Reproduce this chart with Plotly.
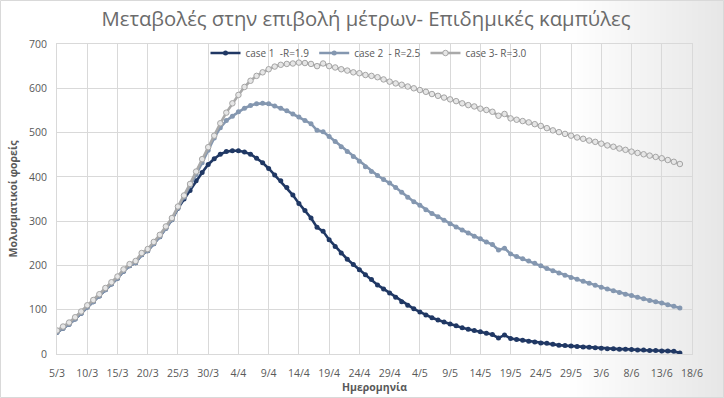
import pandas as pd
import plotly.graph_objects as go

# ---------------- data ----------------
start_date = "2020-03-05"
dates = pd.date_range(start_date, periods=104, freq="D")

case1 = [49, 58, 67, 79, 92, 106, 118, 131, 145, 158, 171, 187, 199, 206, 224, 233, 249, 265, 284, 303, 329,
         350, 369, 391, 410, 428, 441, 451, 457, 459, 459,
         456, 451, 442, 432, 419, 404, 391, 376, 359, 340,
         324, 307, 286, 277, 258, 243, 228, 214, 202, 190,
         179, 168, 156, 147, 138, 128, 118, 110, 102, 95,
         88, 82, 77, 72, 68, 64, 59, 56, 53, 50,
         47, 44, 36, 43, 35, 33, 31, 29, 27, 25,
         24, 22, 20, 19, 18, 17, 16, 15, 14, 13,
         12, 12, 11, 11, 10, 9, 9, 8, 8, 7,
         7, 6, 2]

case2 = [49, 58, 67, 79, 92, 106, 118, 131, 145, 158, 171, 187, 199, 206, 224, 233, 249, 265, 284, 303, 330,
         354, 380, 405, 432, 460, 488, 511, 527, 537, 547,
         555, 561, 565, 566, 565, 560, 555, 549, 542, 535,
         527, 520, 505, 502, 491, 480, 468, 457, 446, 435,
         423, 412, 403, 394, 386, 376, 365, 354, 344, 336,
         326, 317, 310, 302, 294, 287, 280, 273, 266, 260,
         253, 247, 235, 239, 226, 220, 215, 210, 205, 199,
         193, 188, 183, 178, 173, 169, 164, 160, 155, 151,
         147, 143, 139, 135, 132, 128, 125, 121, 118, 115,
         111, 108, 104]

case3 = [53, 62, 71, 83, 96, 110, 122, 135, 149, 162, 175, 191, 203, 210, 228, 237, 253, 269, 288, 307, 333,
         358, 384, 412, 440, 467, 493, 521, 545, 566, 585,
         603, 617, 628, 636, 643, 649, 653, 655, 656, 658,
         657, 655, 650, 656, 650, 647, 643, 640, 636, 634,
         630, 628, 625, 620, 615, 611, 608, 604, 600, 596,
         592, 587, 583, 579, 575, 571, 566, 562, 559, 554,
         551, 547, 538, 542, 532, 529, 526, 523, 519, 515,
         510, 505, 501, 497, 493, 489, 486, 482, 479, 475,
         471, 468, 464, 461, 457, 454, 451, 448, 445, 442,
         438, 434, 429]

series_names = ["case 1\u00a0 -R=1.9", "case 2\u00a0 - R=2.5", "case 3- R=3.0"]
x_start = "2020-03-05"
x_end = "2020-06-18"
title_text = "Μεταβολές στην επιβολή μέτρων- Επιδημικές καμπύλες"
x_title = "Ημερομηνία"
y_title = "Μολυσματικοί φορείς"

# ---------------- figure ----------------
W, H = 724, 398
ML, MR, MT, MB = 57, 32, 44, 44
PW, PH = W - ML - MR, H - MT - MB

fig = go.Figure()
fig.add_trace(go.Scatter(x=dates, y=case1, name=series_names[0], mode="lines+markers",
                         line=dict(color="#203864", width=2.6),
                         marker=dict(symbol="circle", size=5, color="#203864")))
fig.add_trace(go.Scatter(x=dates, y=case2, name=series_names[1], mode="lines+markers",
                         line=dict(color="#8497b0", width=2.6),
                         marker=dict(symbol="circle", size=5, color="#8497b0")))
fig.add_trace(go.Scatter(x=dates, y=case3, name=series_names[2], mode="lines+markers",
                         line=dict(color="#a9a9a9", width=2.6),
                         marker=dict(symbol="circle", size=5.5, color="#e6e6e6",
                                     line=dict(color="#a5a5a5", width=1))))

# subtle gradient toward right edge + chart border
def px2paper_x(p):
    return (p - ML) / PW
def py2paper_y(p):
    return (H - MB - p) / PH

shapes = []
n_bands = 24
for i in range(n_bands):
    x0 = 570 + i * (W - 570) / n_bands
    shapes.append(dict(type="rect", xref="paper", yref="paper",
                       x0=px2paper_x(x0), x1=px2paper_x(W),
                       y0=py2paper_y(H), y1=py2paper_y(0),
                       fillcolor="rgba(190,190,190,0.012)", line=dict(width=0), layer="below"))
shapes.append(dict(type="rect", xref="paper", yref="paper",
                   x0=px2paper_x(0.5), x1=px2paper_x(W - 0.5),
                   y0=py2paper_y(H - 0.5), y1=py2paper_y(0.5),
                   line=dict(color="#d9d9d9", width=1), fillcolor="rgba(0,0,0,0)", layer="above"))

fig.update_layout(
    width=W, height=H,
    margin=dict(l=ML, r=MR, t=MT, b=MB, pad=0),
    paper_bgcolor="white",
    plot_bgcolor="rgba(0,0,0,0)",
    font=dict(family="Open Sans, Liberation Sans, sans-serif", color="#595959", size=10),
    title=dict(text=title_text, x=366 / W, xanchor="center", y=1 - 19 / H, yanchor="middle",
               font=dict(family="Open Sans, sans-serif", size=20.3, color="#6b6b6b")),
    showlegend=True,
    legend=dict(orientation="h", x=px2paper_x(369), xanchor="center",
                y=py2paper_y(53), yanchor="middle",
                bgcolor="rgba(0,0,0,0)", font=dict(size=10, color="#595959"),
                itemwidth=30, traceorder="normal"),
    shapes=shapes,
)

fig.update_xaxes(
    type="date", range=[x_start, x_end],
    tick0=x_start, dtick=5 * 86400000, tickformat="%-d/%-m",
    showgrid=True, gridcolor="#d9d9d9", gridwidth=1,
    showline=True, linecolor="#d9d9d9", mirror=True,
    ticks="", ticklabelstandoff=9,
    tickfont=dict(size=10.5, color="#595959"),
    title=dict(text="<b>" + x_title + "</b>", font=dict(size=10.5, color="#595959"), standoff=2),
    zeroline=False, automargin=False,
)
fig.update_yaxes(
    range=[0, 700], dtick=100,
    showgrid=True, gridcolor="#d9d9d9", gridwidth=1,
    showline=True, linecolor="#d9d9d9", mirror=True,
    ticks="", ticklabelstandoff=7, tickfont=dict(size=10.5, color="#595959"),
    title=dict(text="<b>" + y_title + "</b>", font=dict(size=10.5, color="#595959"), standoff=9),
    zeroline=False, automargin=False,
)

fig.write_html("out.html", config={"displayModeBar": False},
               post_script="document.body.style.margin='0px';")
